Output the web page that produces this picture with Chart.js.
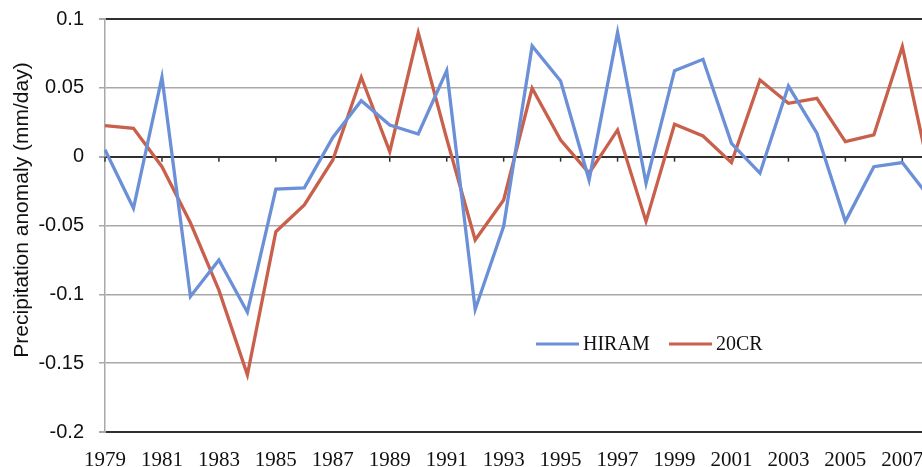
<!DOCTYPE html>
<html>
<head>
<meta charset="utf-8">
<script src="https://cdn.jsdelivr.net/npm/chart.js@4.4.1/dist/chart.umd.min.js"></script>
<style>
    html, body { margin: 0; padding: 0; background: #fff; overflow: hidden; width: 922px; height: 467px; }
    #wrap { position: absolute; left: 0; top: 0; width: 960px; height: 480px; }
</style>
</head>
<body>
<div id="wrap"><canvas id="anomaly-chart" width="960" height="480"></canvas></div>
<script>
// years shown on the x axis (2008 is partly off the right edge, as in the figure)
const years = [1979, 1980, 1981, 1982, 1983, 1984, 1985, 1986, 1987, 1988,
    1989, 1990, 1991, 1992, 1993, 1994, 1995, 1996, 1997, 1998,
    1999, 2000, 2001, 2002, 2003, 2004, 2005, 2006, 2007, 2008];

// precipitation anomaly, mm/day
const hiram = [0.005, -0.0375, 0.0577, -0.1015, -0.075, -0.113, -0.0235, -0.0227, 0.014, 0.0407,
    0.023, 0.0165, 0.0625, -0.111, -0.0506, 0.0804, 0.055, -0.017, 0.0903, -0.0193,
    0.0625, 0.0707, 0.0097, -0.012, 0.0513, 0.017, -0.047, -0.0073, -0.0043, -0.031];
const cr20 = [0.0225, 0.0206, -0.0073, -0.048, -0.097, -0.1585, -0.0545, -0.035, -0.0024, 0.0577,
    0.0036, 0.09, 0.013, -0.0605, -0.0315, 0.0497, 0.012, -0.012, 0.0194, -0.047,
    0.0235, 0.015, -0.0043, 0.0557, 0.0388, 0.0424, 0.0109, 0.0158, 0.0799, -0.016];

const seriesNames = ['HIRAM', '20CR'];
const seriesColors = ['#6b90d7', '#c9604b'];
const yTitle = 'Precipitation anomaly (mm/day)';

const darkLine = '#303030';
const grayLine = '#a8a8a8';

function isDark(v) {
    return Math.abs(v - 0.1) < 1e-6 || Math.abs(v) < 1e-6 || Math.abs(v + 0.2) < 1e-6;
}

// small tick marks on the zero line at every labelled year
const zeroTicks = {
    id: 'zeroTicks',
    beforeDatasetsDraw(chart) {
        const c = chart.ctx, xs = chart.scales.x, ys = chart.scales.y;
        const y0 = ys.getPixelForValue(0);
        c.save();
        c.strokeStyle = darkLine;
        c.lineWidth = 1.5;
        years.forEach((yr, i) => {
            if (yr % 2 === 0) return;
            const x = xs.getPixelForValue(i);
            c.beginPath();
            c.moveTo(x, y0);
            c.lineTo(x, y0 + 5);
            c.stroke();
        });
        c.restore();
    }
};

// legend sitting inside the plot, plus the rotated axis title
const extras = {
    id: 'extras',
    afterDraw(chart) {
        const c = chart.ctx;
        c.save();
        c.font = '20px "Liberation Serif", "Times New Roman", serif';
        c.textBaseline = 'middle';
        const legendY = 344;
        const starts = [536, 669];
        chart.data.datasets.forEach((ds, i) => {
            const x = starts[i];
            c.strokeStyle = ds.borderColor;
            c.lineWidth = 3;
            c.beginPath();
            c.moveTo(x, legendY);
            c.lineTo(x + 43, legendY);
            c.stroke();
            c.fillStyle = '#111';
            c.fillText(ds.label, x + 47, legendY + 1);
        });

        c.translate(22, 210);
        c.rotate(-Math.PI / 2);
        c.font = '21px "Liberation Sans", Arial, sans-serif';
        c.textAlign = 'center';
        c.textBaseline = 'middle';
        c.fillStyle = '#111';
        c.fillText(yTitle, 0, 0);
        c.restore();
    }
};

window.onload = function () {
    const ctx = document.getElementById('anomaly-chart').getContext('2d');
    new Chart(ctx, {
        type: 'line',
        data: {
            labels: years,
            datasets: [{
                label: seriesNames[0],
                data: hiram,
                borderColor: seriesColors[0],
                backgroundColor: seriesColors[0],
                borderWidth: 3.3,
                pointRadius: 0,
                tension: 0
            }, {
                label: seriesNames[1],
                data: cr20,
                borderColor: seriesColors[1],
                backgroundColor: seriesColors[1],
                borderWidth: 3.3,
                pointRadius: 0,
                tension: 0
            }]
        },
        options: {
            responsive: false,
            devicePixelRatio: 1,
            animation: false,
            layout: { padding: { top: 19, right: 29.2, left: 0, bottom: 0 } },
            plugins: {
                legend: { display: false },
                tooltip: { enabled: false }
            },
            scales: {
                x: {
                    offset: false,
                    grid: { display: false, drawTicks: false },
                    border: { display: false },
                    ticks: {
                        autoSkip: false,
                        maxRotation: 0,
                        padding: 16,
                        color: '#111',
                        font: { family: '"Liberation Serif", "Times New Roman", serif', size: 21 },
                        callback: function (val, idx) {
                            return years[idx] % 2 ? String(years[idx]) : '';
                        }
                    },
                    afterFit: function (s) { s.height = 48; s.paddingLeft = 0; s.paddingRight = 0; }
                },
                y: {
                    min: -0.2,
                    max: 0.1,
                    ticks: {
                        stepSize: 0.05,
                        padding: 15,
                        color: '#111',
                        font: { family: '"Liberation Sans", Arial, sans-serif', size: 20 },
                        callback: function (v) { return String(+v.toFixed(2)); }
                    },
                    grid: {
                        color: function (c) { return isDark(c.tick.value) ? darkLine : grayLine; },
                        lineWidth: function (c) { return isDark(c.tick.value) ? 2 : 1.5; },
                        tickColor: grayLine,
                        tickLength: 6
                    },
                    border: { display: true, color: grayLine, width: 1.5 },
                    afterFit: function (s) { s.width = 105; s.paddingTop = 0; s.paddingBottom = 0; }
                }
            }
        },
        plugins: [zeroTicks, extras]
    });
};
</script>
</body>
</html>
